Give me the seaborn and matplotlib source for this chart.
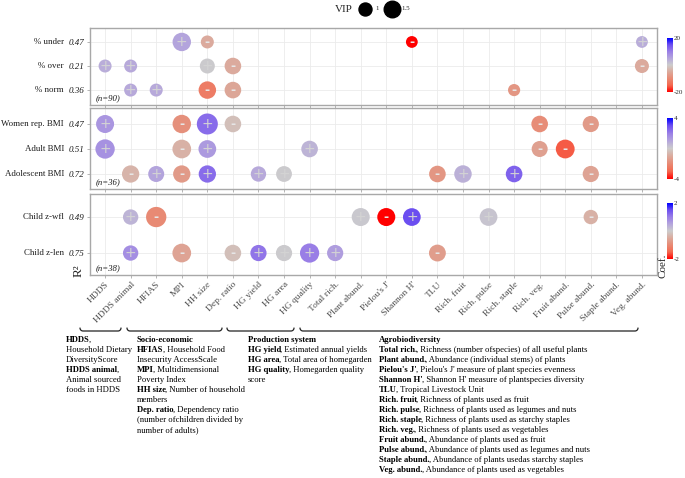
import numpy as np
import pandas as pd
import matplotlib.pyplot as plt
import matplotlib.colors as mcolors
import matplotlib.cm as cm
from matplotlib.lines import Line2D
import seaborn as sns

# ==========================================
# DATA
# ==========================================

variables = [
    "HDDS", "HDDS animal", "HFIAS", "MPI", "HH size", "Dep. ratio",
    "HG yield", "HG area", "HG quality", "Total rich.", "Plant abund.",
    "Pielou's J'", "Shannon H'", "TLU", "Rich. fruit", "Rich. pulse",
    "Rich. staple", "Rich. veg.", "Fruit abund.", "Pulse abund.",
    "Staple abund.", "Veg. abund."
]

# panel 1 : malnutrition shares
rows1 = ["% under", "% over", "% norm"]
r2_1 = ["0.47", "0.21", "0.36"]
p1_row = ["% under"] * 4 + ["% over"] * 5 + ["% norm"] * 5
p1_var = ["MPI", "HH size", "Shannon H'", "Veg. abund.",
          "HDDS", "HDDS animal", "HH size", "Dep. ratio", "Veg. abund.",
          "HDDS animal", "HFIAS", "HH size", "Dep. ratio", "Rich. staple"]
p1_coef = [5, -5, -20, 4,
           4, 4.5, 0.3, -5, -5,
           4.5, 4.5, -12, -5.5, -8]
p1_vip = [1.80, 1.00, 0.86, 0.86,
          1.00, 1.00, 1.26, 1.50, 1.13,
          1.00, 1.00, 1.64, 1.50, 0.90]

# panel 2 : BMI
rows2 = ["Women rep. BMI", "Adult BMI", "Adolescent BMI"]
r2_2 = ["0.47", "0.51", "0.72"]
p2_row = ["Women rep. BMI"] * 6 + ["Adult BMI"] * 6 + ["Adolescent BMI"] * 10
p2_var = ["HDDS", "MPI", "HH size", "Dep. ratio", "Rich. veg.", "Pulse abund.",
          "HDDS", "MPI", "HH size", "HG quality", "Rich. veg.", "Fruit abund.",
          "HDDS animal", "HFIAS", "MPI", "HH size", "HG yield", "HG area",
          "TLU", "Rich. fruit", "Rich. staple", "Pulse abund."]
p2_coef = [1.4, -1.8, 2.4, -0.4, -1.9, -1.5,
           1.5, -0.8, 1.3, 0.6, -1.3, -3.1,
           -0.7, 1.0, -1.5, 2.4, 0.9, 0.05,
           -1.6, 0.7, 2.6, -1.2]
p2_vip = [1.73, 1.80, 2.28, 1.50, 1.50, 1.44,
          1.96, 1.85, 1.68, 1.50, 1.41, 1.87,
          1.61, 1.41, 1.61, 1.61, 1.31, 1.38,
          1.50, 1.64, 1.50, 1.44]

# panel 3 : child growth
rows3 = ["Child z-wfl", "Child z-len"]
r2_3 = ["0.49", "0.75"]
p3_row = ["Child z-wfl"] * 7 + ["Child z-len"] * 8
p3_var = ["HDDS animal", "HFIAS", "Plant abund.", "Pielou's J'", "Shannon H'",
          "Rich. pulse", "Pulse abund.",
          "HDDS animal", "MPI", "Dep. ratio", "HG yield", "HG area",
          "HG quality", "Total rich.", "TLU"]
p3_coef = [0.3, -1.0, 0.05, -2.0, 1.5, 0.1, -0.4,
           0.8, -0.6, -0.2, 1.1, 0.02, 1.0, 0.6, -0.7]
p3_vip = [1.31, 2.14, 1.73, 1.73, 1.68, 1.68, 1.18,
          1.31, 1.85, 1.50, 1.44, 1.44, 1.94, 1.44, 1.54]

n_obs = ["90", "36", "38"]
coef_limits = [20, 4, 2]

legend_vip = [1, 1.5]

# ==========================================
# STYLE
# ==========================================

sns.set_theme(style="white")
plt.rcParams["font.family"] = ["Liberation Serif", "DejaVu Serif"]
plt.rcParams["axes.unicode_minus"] = False

W, H = 685, 478


def fx(px):
    return px / W


def fy(py):
    return 1 - py / H


cmap = mcolors.LinearSegmentedColormap.from_list(
    "coef",
    [(0.0, "#FF0000"), (0.125, "#F4684F"), (0.25, "#E88A74"),
     (0.375, "#DBAA9C"), (0.5, "#CCCCCC"), (0.625, "#B4A5DC"),
     (0.75, "#9A7FE6"), (0.875, "#6E50F0"), (1.0, "#0000FF")]
)


def vip_area(v):
    # marker area (points^2): VIP 1 -> 13 px, VIP 1.5 -> 16.6 px diameter
    return (169 + (v - 1) * 213) * 0.5184


fig = plt.figure(figsize=(W / 100, H / 100), dpi=100)

panels = [
    dict(rows=rows1, r2=r2_1, row=p1_row, var=p1_var, coef=p1_coef, vip=p1_vip,
         box=(28, 105), ylim=(2.62, -0.58), cbar=(38, 92)),
    dict(rows=rows2, r2=r2_2, row=p2_row, var=p2_var, coef=p2_coef, vip=p2_vip,
         box=(108, 189), ylim=(2.6, -0.64), cbar=(118, 179)),
    dict(rows=rows3, r2=r2_3, row=p3_row, var=p3_var, coef=p3_coef, vip=p3_vip,
         box=(194, 275), ylim=(1.61, -0.64), cbar=(203, 259)),
]

for i, p in enumerate(panels):
    top, bottom = p["box"]
    ax = fig.add_axes([fx(90), fy(bottom), 567 / W, (bottom - top) / H])
    lim = coef_limits[i]

    df = pd.DataFrame({
        "row": p["row"],
        "var": p["var"],
        "coef": p["coef"],
        "vip": p["vip"],
    })
    df["x"] = df["var"].map(variables.index)
    df["y"] = df["row"].map(p["rows"].index)

    sns.scatterplot(
        data=df, x="x", y="y",
        hue="coef", palette=cmap, hue_norm=(-lim, lim),
        size="vip", sizes={v: vip_area(v) for v in df["vip"].unique()},
        linewidth=0, legend=False, ax=ax, zorder=3
    )

    for _, r in df.iterrows():
        if r["coef"] > 0:
            ax.text(r["x"], r["y"], "+", ha="center", va="center",
                    color="#D4D4D4", fontsize=10, family="DejaVu Sans",
                    zorder=4)
        else:
            ax.text(r["x"], r["y"] + 0.02, "-", ha="center", va="center",
                    color="#E6E6E6", fontsize=9, fontweight="bold",
                    family="DejaVu Sans", zorder=4)

    ax.set_xlim(-0.59, 21.59)
    ax.set_ylim(p["ylim"])
    ax.set_xticks(range(len(variables)))
    ax.set_yticks(range(len(p["rows"])))
    ax.set_yticklabels(p["r2"], fontstyle="italic", fontsize=6.5, color="#1A1A1A")
    ax.set_xlabel("")
    ax.set_ylabel("")
    ax.grid(True, color="#EBEBEB", linewidth=0.6)
    ax.set_axisbelow(True)
    for s in ax.spines.values():
        s.set_color("#A8A8A8")
        s.set_linewidth(1.0)
    ax.tick_params(axis="both", length=2.5, width=0.6, color="#A8A8A8",
                   pad=1.5, bottom=True, left=True)

    if i < 2:
        ax.set_xticklabels([])
    else:
        ax.set_xticklabels(variables, rotation=45, ha="right",
                           rotation_mode="anchor", fontsize=6.8,
                           color="#4D4D4D")

    for j, name in enumerate(p["rows"]):
        ax.text(-0.046, j, name, transform=ax.get_yaxis_transform(),
                ha="right", va="center", fontsize=6.4, color="#1A1A1A")

    ax.text(6 / 567, 7 / (bottom - top), "(n=" + n_obs[i] + ")",
            transform=ax.transAxes, fontstyle="italic", fontsize=6.3,
            va="center", ha="left", color="#1A1A1A")

    # colorbar
    ctop, cbot = p["cbar"]
    cax = fig.add_axes([fx(667), fy(cbot), 6 / W, (cbot - ctop) / H])
    sm = cm.ScalarMappable(norm=mcolors.Normalize(-lim, lim), cmap=cmap)
    cb = fig.colorbar(sm, cax=cax, ticks=[-lim, lim])
    cb.set_ticklabels(["-" + str(lim), str(lim)])
    cb.outline.set_visible(False)
    cax.tick_params(length=0, labelsize=5, pad=0.8)

fig.text(fx(79), fy(271), "R²", rotation=90, ha="center", va="center",
         fontsize=9.5)
fig.text(fx(663), fy(266), "Coef.", rotation=90, ha="center", va="center",
         fontsize=8)

# ==========================================
# VIP LEGEND
# ==========================================

fig.text(fx(344), fy(10), "VIP", ha="center", va="center", fontsize=8)
leg_x = [364.5, 392]
leg_lab_x = [375, 401]
for v, lx, tx in zip(legend_vip, leg_x, leg_lab_x):
    fig.add_artist(Line2D([fx(lx)], [fy(9)], marker="o", linestyle="",
                          markersize=np.sqrt(vip_area(v)), color="black",
                          transform=fig.transFigure))
    fig.text(fx(tx), fy(9), str(v), ha="left", va="center", fontsize=5)

# ==========================================
# BRACES
# ==========================================


def brace(x0, x1, y, r=3):
    t = np.linspace(0, np.pi / 2, 8)
    xs = np.concatenate([(x0 + r - r * np.cos(t)), (x1 - r + r * np.sin(t))])
    ys = np.concatenate([(y - r + r * np.sin(t)), (y - r + r * np.cos(t))])
    fig.add_artist(Line2D([fx(v) for v in xs], [fy(v) for v in ys],
                          color="#222222", linewidth=0.9,
                          transform=fig.transFigure))


brace(80, 121, 331)
brace(127, 222, 331)
brace(227, 294, 331)
brace(300, 638, 331)

# ==========================================
# DEFINITIONS TEXT
# ==========================================

col1 = [("HDDS", ","), ("", "Household Dietary"), ("", "DiversityScore"),
        ("HDDS animal", ","), ("", "Animal sourced"), ("", "foods in HDDS")]
col2 = [("Socio-economic", ""),
        ("HFIAS", ", Household Food"), ("", "Insecurity AccessScale"),
        ("MPI", ", Multidimensional"), ("", "Poverty Index"),
        ("HH size", ", Number of household"), ("", "members"),
        ("Dep. ratio", ", Dependency ratio"),
        ("", "(number ofchildren divided by"), ("", "number of adults)")]
col3 = [("Production system", ""),
        ("HG yield", ", Estimated annual yields"),
        ("HG area", ", Total area of homegarden"),
        ("HG quality", ", Homegarden quality"), ("", "score")]
col4 = [("Agrobiodiversity", ""),
        ("Total rich.", ", Richness (number ofspecies) of all useful plants"),
        ("Plant abund.", ", Abundance (individual stems) of plants"),
        ("Pielou's J'", ", Pielou's J' measure of plant species evenness"),
        ("Shannon H'", ", Shannon H' measure of plantspecies diversity"),
        ("TLU", ", Tropical Livestock Unit"),
        ("Rich. fruit", ", Richness of plants used as fruit"),
        ("Rich. pulse", ", Richness of plants used as legumes and nuts"),
        ("Rich. staple", ", Richness of plants used as starchy staples"),
        ("Rich. veg.", ", Richness of plants used as vegetables"),
        ("Fruit abund.", ", Abundance of plants used as fruit"),
        ("Pulse abund.", ", Abundance of plants used as legumes and nuts"),
        ("Staple abund.", ", Abundance of plants usedas starchy staples"),
        ("Veg. abund.", ", Abundance of plants used as vegetables")]

renderer = fig.canvas.get_renderer()
line_h = 10.0
for x0, lines in [(66, col1), (137, col2), (248, col3), (379, col4)]:
    for k, (bold, rest) in enumerate(lines):
        yy = fy(340 + k * line_h)
        xx = fx(x0)
        if bold:
            t = fig.text(xx, yy, bold, fontweight="bold", fontsize=6.2,
                         ha="left", va="center", color="black")
            xx = (t.get_window_extent(renderer).x1 - 0.8) / W
        if rest:
            fig.text(xx, yy, rest, fontsize=6.2, ha="left", va="center",
                     color="black")

plt.savefig("out.png", dpi=100)
